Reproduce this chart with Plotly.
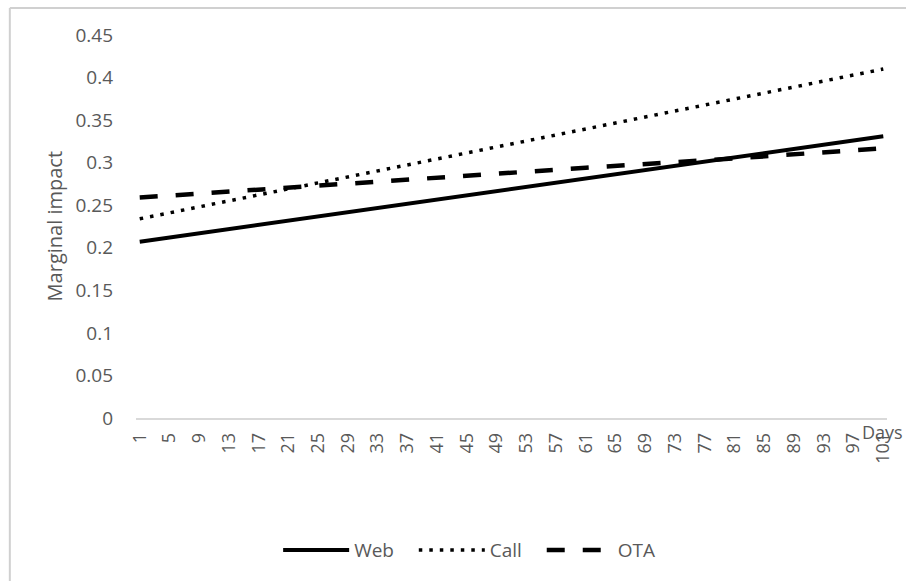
import plotly.graph_objects as go

# Days sampled along each trend line
days = [1, 21, 41, 61, 81, 101]
web = [0.207, 0.232, 0.257, 0.281, 0.306, 0.331]
call = [0.234, 0.269, 0.304, 0.339, 0.374, 0.410]
ota = [0.259, 0.271, 0.282, 0.294, 0.305, 0.317]

tick_days = [1, 5, 9, 13, 17, 21, 25, 29, 33, 37, 41, 45, 49, 53, 57, 61,
             65, 69, 73, 77, 81, 85, 89, 93, 97, 101]
y_ticks = [0, 0.05, 0.1, 0.15, 0.2, 0.25, 0.3, 0.35, 0.4, 0.45]
y_labels = ["0", "0.05", "0.1", "0.15", "0.2", "0.25", "0.3", "0.35", "0.4", "0.45"]

FONT = "Open Sans"
GREY = "#595959"
PAD = "\u00a0\u00a0\u00a0"  # extra room after each legend entry

fig = go.Figure()
fig.add_trace(go.Scatter(x=days, y=web, name="Web" + PAD, mode="lines",
                         line=dict(color="black", width=4)))
fig.add_trace(go.Scatter(x=days, y=call, name="Call" + PAD, mode="lines",
                         line=dict(color="black", width=3.5, dash="3.5px,7px")))
fig.add_trace(go.Scatter(x=days, y=ota, name="OTA", mode="lines",
                         line=dict(color="black", width=4.5, dash="18px,18px")))

fig.update_layout(
    width=906, height=581,
    margin=dict(l=136, r=17, t=35, b=163),
    paper_bgcolor="white", plot_bgcolor="white",
    font=dict(family=FONT, size=19, color=GREY),
    showlegend=True,
    legend=dict(orientation="h", x=0.4436, xanchor="center", y=-0.345, yanchor="middle",
                font=dict(size=19, color=GREY), itemwidth=66, traceorder="normal"),
    xaxis=dict(range=[0.5, 101.5], tickmode="array", tickvals=tick_days,
               ticktext=[str(d) for d in tick_days], tickangle=-90,
               showgrid=False, zeroline=False, showline=True,
               linecolor="#d9d9d9", linewidth=1.5, ticks="",
               ticklabelstandoff=6, tickfont=dict(size=18, color=GREY)),
    yaxis=dict(range=[0, 0.45], tickmode="array", tickvals=y_ticks, ticktext=y_labels,
               showgrid=False, zeroline=False, showline=False, ticks="",
               ticklabelstandoff=22, tickfont=dict(size=19, color=GREY)),
    annotations=[
        dict(text="Marginal impact", x=-0.108, y=0.5, xref="paper", yref="paper",
             textangle=-90, showarrow=False, xanchor="center", yanchor="middle",
             font=dict(size=20, color=GREY)),
        dict(text="Days", x=0.964, y=-0.037, xref="paper", yref="paper",
             showarrow=False, xanchor="left", yanchor="middle",
             font=dict(size=18, color=GREY)),
    ],
    shapes=[
        dict(type="line", xref="paper", yref="paper", x0=-0.168, x1=-0.168,
             y0=1.0705, y1=-0.6, line=dict(color="#d0d0d0", width=2)),
        dict(type="line", xref="paper", yref="paper", x0=-0.168, x1=1.1,
             y0=1.0705, y1=1.0705, line=dict(color="#d0d0d0", width=2)),
    ],
)

fig.write_html("out.html")
